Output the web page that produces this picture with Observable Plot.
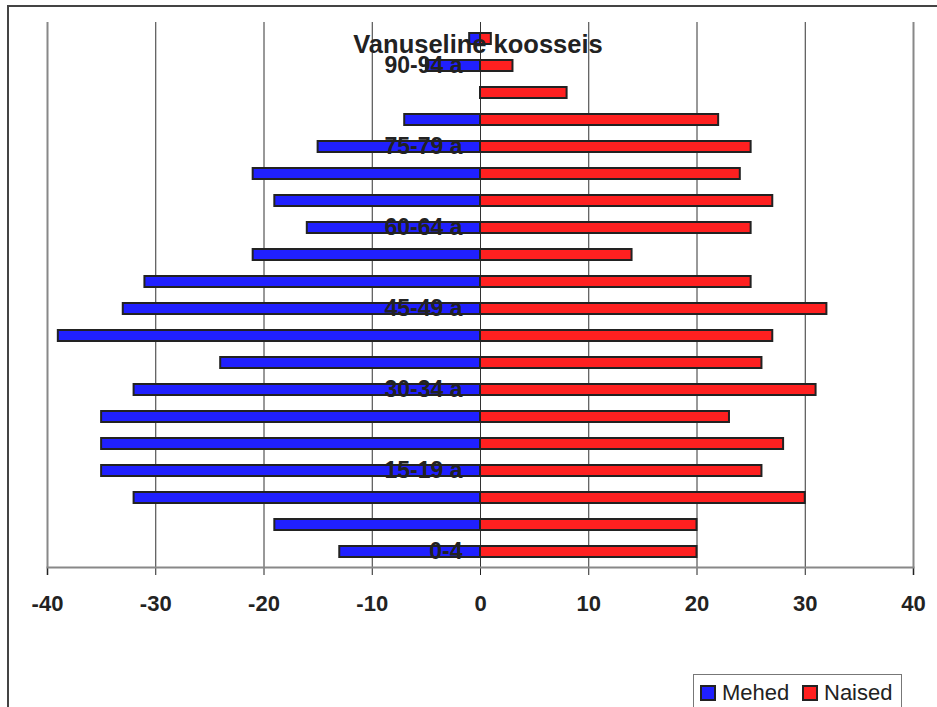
<!DOCTYPE html>
<html>
<head>
<meta charset="utf-8">
<script src="https://cdn.jsdelivr.net/npm/d3@7"></script>
<script src="https://cdn.jsdelivr.net/npm/@observablehq/plot@0.6"></script>
<style>
  html, body { margin: 0; padding: 0; background: white; }
  #wrap { position: relative; width: 937px; height: 707px; overflow: hidden; font-family: 'Liberation Sans', Arial, sans-serif; }
  #chart { position: absolute; left: 0; top: 0; }
  #title { position: absolute; left: 478px; top: 32px; transform: translateX(-50%); font-size: 25.5px; line-height: 25px; font-weight: bold; color: #222; white-space: nowrap; }
  #frameL { position: absolute; left: 7px; top: 6px; width: 2px; height: 701px; background: #444; }
  #frameT { position: absolute; left: 7px; top: 5px; width: 930px; height: 2px; background: #444; }
  #legend { position: absolute; left: 693px; top: 674px; width: 209px; height: 50px; border: 1px solid #777; box-sizing: border-box; background: white; }
  .item { position: absolute; top: 5px; font-size: 22px; line-height: 26px; color: #222; white-space: nowrap; }
  .sw { display: inline-block; width: 12px; height: 12px; border: 2px solid #222; vertical-align: top; margin-top: 5px; margin-right: 6px; }
</style>
</head>
<body>
<div id="wrap">
  <div id="chart"></div>
  <div id="title"></div>
  <div id="legend"></div>
  <div id="frameL"></div>
  <div id="frameT"></div>
</div>
<script>
const ageGroups = ["0-4","5-9","10-14","15-19","20-24","25-29","30-34","35-39","40-44","45-49","50-54","55-59","60-64","65-69","70-74","75-79","80-84","85-89","90-94","95-99"];
const men   = [13,19,32,35,35,35,32,24,39,33,31,21,16,19,21,15,7,0,5,1];
const women = [20,20,30,26,28,23,31,26,27,32,25,14,25,27,24,25,22,8,3,1];
const labeledGroups = ["0-4","15-19","30-34","45-49","60-64","75-79","90-94"];
const labelTexts = ["0-4","15-19 a","30-34 a","45-49 a","60-64 a","75-79 a","90-94 a"];
const xTicks = [-40,-30,-20,-10,0,10,20,30,40];
const seriesNames = ["Mehed","Naised"];
const seriesColors = ["#2020ff","#ff2020"];
const titleText = "Vanuseline koosseis";

const rows = ageGroups.map((g, i) => ({g, men: men[i], women: women[i]}));
const labelRows = labeledGroups.map((g, i) => ({g, t: labelTexts[i]}));

const chart = Plot.plot({
  width: 937,
  height: 707,
  marginTop: 22,
  marginBottom: 140,
  marginLeft: 47,
  marginRight: 24,
  style: {fontFamily: "'Liberation Sans', Arial, sans-serif", background: "white", color: "#222"},
  x: {domain: [-40, 40]},
  y: {domain: ageGroups.slice().reverse(), paddingInner: 0.6, paddingOuter: 0.3, axis: null},
  marks: [
    Plot.ruleX(xTicks.filter(d => Math.abs(d) < 40), {stroke: "#333", strokeWidth: 1}),
    Plot.barX(rows.filter(d => d.men > 0), {y: "g", x1: 0, x2: d => -d.men, fill: seriesColors[0], stroke: "#222", strokeWidth: 2}),
    Plot.barX(rows, {y: "g", x1: 0, x2: "women", fill: seriesColors[1], stroke: "#222", strokeWidth: 2}),
    Plot.ruleX([-40, 40], {stroke: "#888", strokeWidth: 2, insetBottom: -8}),
    Plot.axisX({ticks: xTicks, tickSize: 8, tickPadding: 20, tickFormat: d => String(d), fontSize: 22, fontWeight: "bold", color: "#222", label: null}),
    Plot.frame({anchor: "bottom", stroke: "#888", strokeWidth: 2}),
    Plot.text(labelRows, {x: 0, y: "g", text: "t", textAnchor: "end", dx: -18, fontSize: 23, fontWeight: "bold", fill: "#222"})
  ]
});
document.getElementById("chart").appendChild(chart);
document.getElementById("title").textContent = titleText;

const legend = document.getElementById("legend");
const lefts = [6, 108];
seriesNames.forEach((name, i) => {
  const it = document.createElement("div");
  it.className = "item";
  it.style.left = lefts[i] + "px";
  const sw = document.createElement("span");
  sw.className = "sw";
  sw.style.background = seriesColors[i];
  it.appendChild(sw);
  it.appendChild(document.createTextNode(name));
  legend.appendChild(it);
});
</script>
</body>
</html>
